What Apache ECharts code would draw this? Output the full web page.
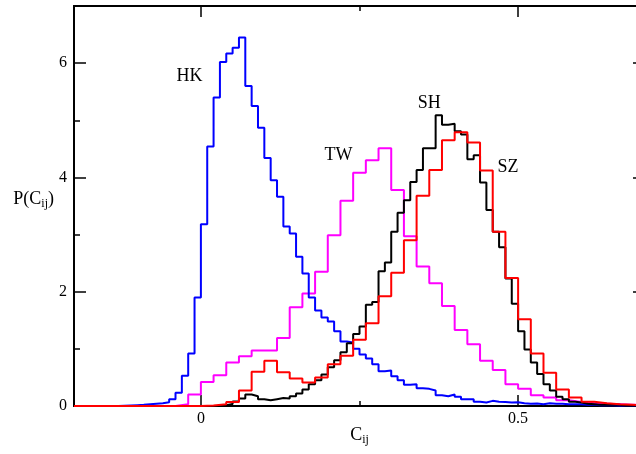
<!DOCTYPE html>
<html>
<head>
<meta charset="utf-8">
<script src="https://cdn.jsdelivr.net/npm/echarts@6/dist/echarts.min.js"></script>
<style>
  html, body { margin: 0; padding: 0; background: #fff; }
  #chart { width: 636px; height: 454px; }
</style>
</head>
<body>
<div id="chart"></div>
<script>
// Histograms of the correlation coefficients C_ij for four markets.
// Each series: first bin's left edge, bin width, bin heights.
const xMin = -0.2, xMax = 0.7;
const yMin = 0, yMax = 7;

const hkStart = -0.13, hkWidth = 0.01;
const hkValues = [
  0.005, 0.01, 0.015, 0.02, 0.03, 0.04, 0.05, 0.065, 0.12, 0.23,
  0.53, 0.92, 1.90, 3.18, 4.54, 5.40, 6.02, 6.17, 6.27, 6.45,
  5.60, 5.25, 4.87, 4.34, 3.95, 3.66, 3.14, 3.02, 2.61, 2.32,
  1.90, 1.67, 1.55, 1.48, 1.31, 1.13, 1.11, 1.00, 0.90, 0.83,
  0.73, 0.61, 0.62, 0.52, 0.45, 0.37, 0.38, 0.31, 0.30, 0.27,
  0.19, 0.17, 0.20, 0.16, 0.12, 0.12, 0.075, 0.06, 0.09, 0.075,
  0.07, 0.06, 0.065, 0.05, 0.04, 0.045, 0.03, 0.05, 0.04, 0.04,
  0.03, 0.03, 0.03, 0.02, 0.02, 0.015, 0.015, 0.015, 0.01, 0.01,
  0.01, 0.01, 0.01
];

const twStart = -0.04, twWidth = 0.02;
const twValues = [
  0.03, 0.20, 0.42, 0.54, 0.76, 0.87, 0.97, 0.97, 1.19, 1.73,
  1.97, 2.35, 2.99, 3.59, 4.08, 4.30, 4.51, 3.78, 2.97, 2.44,
  2.15, 1.75, 1.33, 1.08, 0.79, 0.63, 0.38, 0.30, 0.19, 0.15,
  0.10, 0.07, 0.05, 0.04, 0.03, 0.02, 0.02
];

const shStart = 0.02, shWidth = 0.01;
const shValues = [
  0.005, 0.015, 0.035, 0.08, 0.13, 0.20, 0.17, 0.12, 0.10, 0.12,
  0.14, 0.13, 0.17, 0.22, 0.29, 0.38, 0.45, 0.55, 0.68, 0.80,
  0.94, 1.10, 1.26, 1.39, 1.77, 1.82, 2.36, 2.51, 3.05, 3.38,
  3.60, 3.92, 4.13, 4.51, 4.51, 5.09, 4.92, 4.94, 4.81, 4.75,
  4.32, 4.39, 3.91, 3.43, 3.05, 2.78, 2.23, 1.79, 1.31, 0.99,
  0.76, 0.56, 0.38, 0.27, 0.16, 0.12, 0.075, 0.06, 0.04, 0.03,
  0.02, 0.02, 0.02, 0.02, 0.01, 0.01, 0.01, 0.01
];

const szStart = 0.00, szWidth = 0.02;
const szValues = [
  0.01, 0.03, 0.07, 0.27, 0.60, 0.79, 0.59, 0.48, 0.41, 0.50,
  0.73, 0.88, 1.16, 1.45, 1.92, 2.33, 2.90, 3.68, 4.13, 4.65,
  4.79, 4.61, 4.12, 3.05, 2.24, 1.52, 0.92, 0.58, 0.29, 0.15,
  0.075, 0.05, 0.03, 0.02, 0.01
];

// Curve names and where their labels sit, in data coordinates.
const curveNames = ['HK', 'TW', 'SH', 'SZ'];
const curveLabelAt = [[-0.018, 5.77], [0.217, 4.39], [0.36, 5.29], [0.484, 4.18]];

// Tick positions on the x axis.
const xMajorTicks = [0, 0.5];
const xMinorTicks = [0.25];

const serif = 'Liberation Serif';

// Turn bins into step-line points: left edge of each bin, then close at the last right edge.
function stepPoints(start, width, values) {
  const r = v => Math.round(v * 1e6) / 1e6;
  const pts = [[xMin, 0]];
  values.forEach((v, i) => pts.push([r(start + i * width), v]));
  pts.push([r(start + values.length * width), 0]);
  pts.push([xMax, 0]);
  return pts;
}

function histSeries(name, color, start, width, values, z) {
  return {
    name: name,
    type: 'line',
    step: 'end',
    data: stepPoints(start, width, values),
    showSymbol: false,
    symbol: 'none',
    lineStyle: { color: color, width: 2 },
    z: z,
    silent: true,
    animation: false
  };
}

function xAxisDef(position, ticks, len, labels) {
  return {
    type: 'value', min: xMin, max: xMax, position: position,
    axisLine: { show: true, onZero: false, lineStyle: { color: '#000', width: 2 } },
    axisTick: { show: true, inside: true, length: len, customValues: ticks,
                lineStyle: { color: '#000', width: 1.5 } },
    axisLabel: labels ? {
      show: true, customValues: ticks, margin: 5,
      fontFamily: serif, fontSize: 16, color: '#000',
      formatter: v => (v === 0 ? '0' : String(v))
    } : { show: false },
    splitLine: { show: false }
  };
}

function yAxisDef(position, labels) {
  return {
    type: 'value', min: yMin, max: yMax, interval: 2, position: position,
    axisLine: { show: true, onZero: false, lineStyle: { color: '#000', width: 2 } },
    axisTick: { show: true, inside: true, length: 12, lineStyle: { color: '#000', width: 1.5 } },
    minorTick: { show: true, splitNumber: 2, length: 6, lineStyle: { color: '#000', width: 1.5 } },
    axisLabel: labels ? { show: true, margin: 7, showMaxLabel: false,
                          fontFamily: serif, fontSize: 16, color: '#000' }
                      : { show: false },
    splitLine: { show: false },
    minorSplitLine: { show: false }
  };
}

const chart = echarts.init(document.getElementById('chart'), null, { renderer: 'canvas' });

const subRich = {
  m: { fontFamily: serif, fontSize: 18, color: '#000', lineHeight: 20, verticalAlign: 'top' },
  s: { fontFamily: serif, fontSize: 12, color: '#000', lineHeight: 13, padding: [15, 0, 0, 0], verticalAlign: 'bottom' }
};

const xAxes = [
  xAxisDef('bottom', xMajorTicks, 11, true),
  xAxisDef('bottom', xMinorTicks, 5, false),
  xAxisDef('top', xMajorTicks, 11, false),
  xAxisDef('top', xMinorTicks, 5, false)
];
Object.assign(xAxes[0], {
  name: '{m|C}{s|ij}',
  nameLocation: 'middle',
  nameGap: 20,
  nameMoveOverlap: false,
  nameTextStyle: { rich: subRich }
});

const yAxes = [yAxisDef('left', true), yAxisDef('right', false)];
Object.assign(yAxes[0], {
  name: '{m|P(C}{s|ij}{m|)}',
  nameLocation: 'middle',
  nameRotate: 0,
  nameGap: 20,
  nameMoveOverlap: false,
  nameTextStyle: { align: 'right', padding: [0, 0, 12, 0], rich: subRich }
});

const labelSeries = {
  type: 'scatter',
  symbolSize: 0,
  silent: true,
  animation: false,
  z: 10,
  itemStyle: { opacity: 1 },
  data: curveNames.map((n, i) => ({ value: curveLabelAt[i], name: n })),
  label: {
    show: true, position: 'inside', formatter: p => p.name, opacity: 1,
    fontFamily: serif, fontSize: 18, color: '#000', textBorderWidth: 0
  }
};

chart.setOption({
  backgroundColor: '#fff',
  animation: false,
  grid: { left: 74, top: 6, width: 571, height: 400, containLabel: false, outerBoundsMode: 'none' },
  xAxis: xAxes,
  yAxis: yAxes,
  series: [
    histSeries('TW', '#ff00ff', twStart, twWidth, twValues, 2),
    histSeries('HK', '#0000ff', hkStart, hkWidth, hkValues, 3),
    histSeries('SH', '#000000', shStart, shWidth, shValues, 4),
    histSeries('SZ', '#ff0000', szStart, szWidth, szValues, 5),
    labelSeries
  ]
});
</script>
</body>
</html>
